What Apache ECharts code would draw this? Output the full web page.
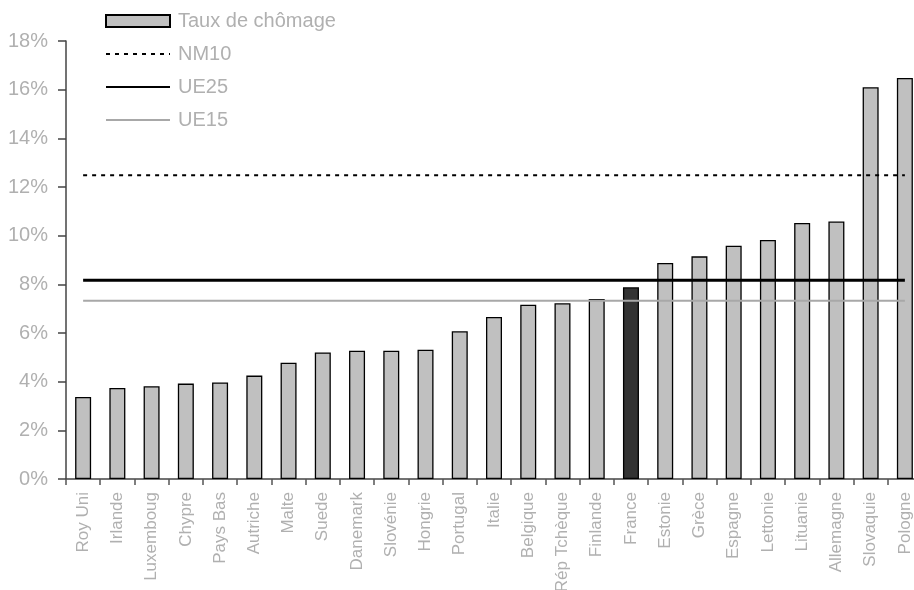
<!DOCTYPE html>
<html>
<head>
<meta charset="utf-8">
<script src="https://cdn.jsdelivr.net/npm/echarts@6/dist/echarts.min.js"></script>
<style>
html,body{margin:0;padding:0;background:#fff;}
#c{width:914px;height:590px;}
</style>
</head>
<body>
<div id="c"></div>
<script>
var categories = ["Roy Uni","Irlande","Luxemboug","Chypre","Pays Bas","Autriche","Malte","Suede","Danemark","Slovénie","Hongrie","Portugal","Italie","Belgique","Rép Tchèque","Finlande","France","Estonie","Grèce","Espagne","Lettonie","Lituanie","Allemagne","Slovaquie","Pologne"];
var tauxChomage = [3.37,3.74,3.81,3.92,3.97,4.25,4.78,5.20,5.27,5.27,5.31,6.07,6.66,7.16,7.22,7.40,7.88,8.88,9.15,9.59,9.82,10.52,10.58,16.10,16.48];
var nm10Value = 12.48;
var ue25Value = 8.17;
var ue15Value = 7.33;
var highlightCategory = "France";
var yTicks = {min:0, max:18, interval:2};

function constant(v){ return categories.map(function(){ return v; }); }

var barData = tauxChomage.map(function(v,i){
  if (categories[i] === highlightCategory) {
    return {value:v, itemStyle:{color:'#333333'}};
  }
  return v;
});

var font = 'Liberation Sans, Arial, sans-serif';
var chart = echarts.init(document.getElementById('c'), null, {renderer:'canvas'});
chart.setOption({
  animation:false,
  backgroundColor:'#ffffff',
  grid:{left:66, right:-8, top:41, bottom:111, containLabel:false, outerBoundsMode:'none'},
  legend:{
    orient:'vertical', left:105, top:11, padding:0,
    itemWidth:64, itemHeight:12, itemGap:13,
    textStyle:{color:'#b0b0b0', fontSize:20, fontFamily:font, lineHeight:20, padding:[0,0,0,3]},
    data:[
      {name:'Taux de chômage', icon:'rect'},
      {name:'NM10', itemStyle:{opacity:0}},
      {name:'UE25', itemStyle:{opacity:0}},
      {name:'UE15', itemStyle:{opacity:0}}
    ]
  },
  xAxis:{
    type:'category', data:categories, boundaryGap:true,
    axisLine:{lineStyle:{color:'#444', width:1.5}},
    axisTick:{show:true, length:6, alignWithLabel:false, interval:0, lineStyle:{color:'#555', width:1.5}},
    axisLabel:{rotate:90, interval:0, margin:13, color:'#b0b0b0', fontSize:17, fontFamily:font},
    splitLine:{show:false}
  },
  yAxis:{
    type:'value', min:yTicks.min, max:yTicks.max, interval:yTicks.interval,
    axisLine:{show:true, lineStyle:{color:'#444', width:1.5}},
    axisTick:{show:true, length:8, lineStyle:{color:'#444', width:1.5}},
    axisLabel:{formatter:'{value}%', margin:18, color:'#b0b0b0', fontSize:20, fontFamily:font},
    splitLine:{show:false}
  },
  series:[
    {name:'Taux de chômage', type:'bar', data:barData, barWidth:16,
     itemStyle:{color:'#c0c0c0', borderColor:'#000', borderWidth:1.3}},
    {name:'NM10', type:'line', data:constant(nm10Value), symbol:'none',
     lineStyle:{color:'#000', width:2, type:[4,5]}, itemStyle:{color:'#000'}},
    {name:'UE25', type:'line', data:constant(ue25Value), symbol:'none',
     lineStyle:{color:'#000', width:3}, itemStyle:{color:'#000'}},
    {name:'UE15', type:'line', data:constant(ue15Value), symbol:'none',
     lineStyle:{color:'#a8a8a8', width:2}, itemStyle:{color:'#a8a8a8'}}
  ]
});
</script>
</body>
</html>
